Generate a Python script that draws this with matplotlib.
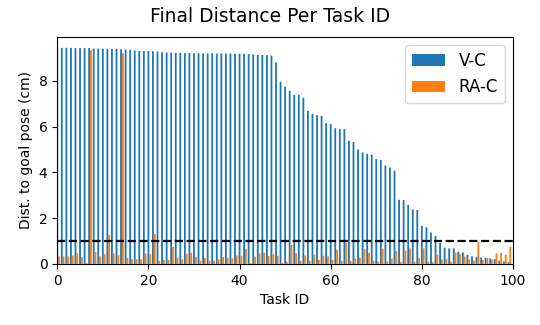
import matplotlib
matplotlib.use('Agg')
import matplotlib.pyplot as plt
import numpy as np

# Final distance per task (cm)
v_c = [9.44, 9.44, 9.44, 9.44, 9.43, 9.43, 9.43, 9.43, 9.41, 9.41,
       9.40, 9.40, 9.40, 9.40, 9.38, 9.37, 9.35, 9.32, 9.31, 9.30,
       9.30, 9.29, 9.28, 9.25, 9.24, 9.23, 9.22, 9.22, 9.21, 9.21,
       9.21, 9.20, 9.20, 9.20, 9.20, 9.19, 9.19, 9.19, 9.19, 9.18,
       9.18, 9.18, 9.17, 9.15, 9.14, 9.13, 9.12, 9.10, 8.80, 7.96,
       7.74, 7.56, 7.39, 7.39, 7.26, 6.69, 6.56, 6.50, 6.47, 6.15,
       6.11, 5.93, 5.89, 5.89, 5.38, 5.32, 5.00, 4.87, 4.81, 4.77,
       4.58, 4.54, 4.30, 4.21, 4.07, 2.80, 2.79, 2.58, 2.38, 2.36,
       1.66, 1.60, 1.37, 1.22, 0.92, 0.71, 0.68, 0.68, 0.53, 0.50,
       0.39, 0.33, 0.31, 0.28, 0.27, 0.24, 0.21, 0.14, 0.11, 0.08]

ra_c = [0.33, 0.33, 0.33, 0.37, 0.46, 0.30, 0.04, 9.33, 0.52, 0.33,
        0.43, 1.27, 0.46, 0.39, 9.21, 0.26, 0.21, 0.21, 0.21, 0.46,
        0.43, 1.30, 0.14, 0.17, 0.18, 0.74, 0.27, 0.21, 0.44, 0.49,
        0.31, 0.14, 0.26, 0.14, 0.14, 0.21, 0.30, 0.27, 0.24, 0.37,
        0.36, 0.66, 0.04, 0.31, 0.46, 0.49, 0.34, 0.42, 0.36, 0.04,
        0.10, 0.83, 0.47, 0.14, 0.36, 0.14, 0.40, 0.18, 0.36, 0.33,
        0.18, 0.62, 0.14, 0.93, 0.12, 0.23, 0.27, 0.66, 0.49, 0.14,
        0.10, 0.66, 0.12, 0.24, 0.56, 0.08, 0.58, 0.68, 0.10, 0.25,
        0.68, 0.10, 0.08, 0.40, 0.20, 0.22, 0.10, 0.50, 0.44, 0.33,
        0.20, 0.14, 0.95, 0.18, 0.25, 0.20, 0.46, 0.48, 0.40, 0.75]

task_id = np.arange(len(v_c))
threshold = 1.0
width = 0.4

fig, ax = plt.subplots(figsize=(5.4, 3.25), dpi=100)
fig.subplots_adjust(left=0.106, right=0.95, top=0.886, bottom=0.188)

# snap=False keeps the thin bars smooth instead of pixel-snapped
ax.bar(task_id, v_c, width=width, color='#1f77b4', label='V-C', snap=False)
ax.bar(task_id + width, ra_c, width=width, color='#ff7f0e', label='RA-C', snap=False)
ax.axhline(threshold, color='black', linestyle='--', linewidth=1.6)

ax.set_xlim(0, 100)
ax.set_xticks([0, 20, 40, 60, 80, 100])
ax.set_yticks([0, 2, 4, 6, 8])
fig.suptitle('Final Distance Per Task ID', fontsize=13.5, x=0.5, y=0.948, va='center')
ax.set_xlabel('Task ID')
ax.set_ylabel('Dist. to goal pose (cm)')
ax.legend(loc='upper right', fontsize=12)

fig.savefig('out.png', dpi=100)
